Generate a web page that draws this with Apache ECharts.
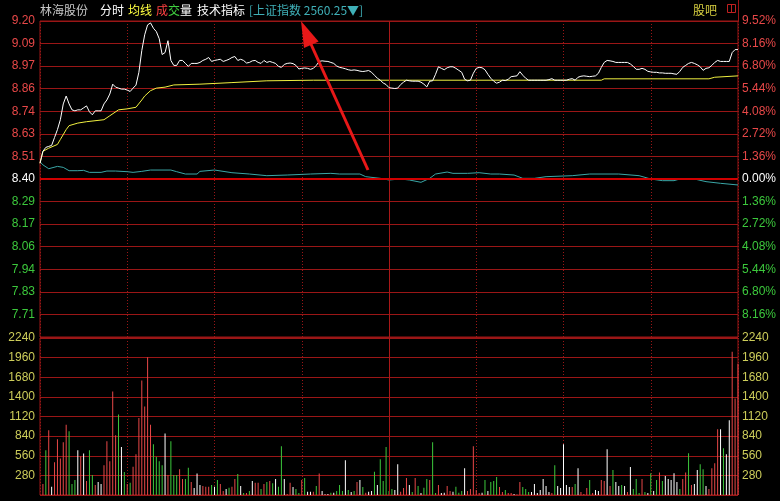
<!DOCTYPE html>
<html><head><meta charset="utf-8">
<script src="https://cdn.jsdelivr.net/npm/echarts@6/dist/echarts.min.js"></script>
<style>html,body{margin:0;padding:0;background:#000;}#c{width:780px;height:501px;}</style>
</head><body><div id="c"></div>
<script>
// ---- data ----
const stockName = '林海股份';
const basePrice = 8.40;          // previous close
const pctStep = 1.36;            // % per grid step
const volMax = 2240, volStep = 280;
const indexText = '[上证指数 2560.25▼]';

// last price per minute (0..240)
const prices = [
8.48,8.54,8.56,8.565,8.57,8.61,8.65,8.70,8.78,8.82,
8.78,8.75,8.745,8.75,8.75,8.76,8.77,8.74,8.725,8.745,
8.745,8.745,8.78,8.80,8.83,8.88,8.865,8.86,8.855,8.855,
8.85,8.843,8.86,8.875,8.94,9.05,9.13,9.18,9.19,9.163,
9.146,9.11,9.03,9.04,9.10,9.00,8.975,8.975,9.00,9.00,
8.985,8.97,8.985,8.985,8.985,8.99,9.00,9.006,9.015,8.995,
9.00,9.003,9.006,8.995,9.00,9.006,9.015,9.02,9.00,9.006,
9.00,8.987,8.99,8.998,9.00,8.99,8.985,9.00,8.99,8.995,
8.99,8.985,8.97,8.965,8.98,8.985,8.987,8.984,8.975,8.957,
8.96,8.962,8.96,8.955,8.96,8.975,8.995,8.998,8.996,8.995,
8.99,8.985,8.972,8.965,8.962,8.958,8.953,8.95,8.952,8.95,
8.946,8.944,8.946,8.949,8.94,8.925,8.91,8.90,8.886,8.878,
8.862,8.86,8.858,8.86,8.878,8.89,8.90,8.897,8.895,8.895,
8.895,8.89,8.88,8.866,8.895,8.897,8.93,8.968,8.96,8.953,
8.963,8.968,8.968,8.96,8.95,8.94,8.905,8.897,8.90,8.935,
8.96,8.965,8.963,8.953,8.93,8.91,8.895,8.885,8.89,8.90,
8.898,8.905,8.918,8.92,8.922,8.943,8.925,8.91,8.90,8.90,
8.90,8.90,8.90,8.90,8.90,8.903,8.908,8.90,8.90,8.90,
8.90,8.90,8.905,8.908,8.90,8.915,8.92,8.922,8.92,8.918,
8.92,8.922,8.935,8.965,8.99,9.00,8.998,8.995,8.99,8.99,
8.99,8.99,8.99,8.982,8.97,8.955,8.955,8.96,8.955,8.945,
8.942,8.94,8.94,8.937,8.937,8.935,8.935,8.935,8.932,8.93,
8.945,8.965,8.975,8.985,8.99,8.985,8.978,8.968,8.95,8.96,
8.963,8.975,8.99,9.00,8.995,8.995,8.995,8.995,9.04,9.055,
9.055];

// average price line (minute, price)
const avgMinutes = [0,1,3,6,7,9,10,13,16,22,24,27,30,33,35,36,38,40,43,46,55,66,78,94,193,194,230,232,240];
const avgPrices  = [8.48,8.54,8.556,8.575,8.60,8.65,8.67,8.683,8.69,8.70,8.72,8.75,8.755,8.763,8.80,8.82,8.847,8.86,8.865,8.876,8.88,8.888,8.897,8.90,8.90,8.907,8.907,8.915,8.922];

// Shanghai index overlay (minute, % change)
const idxMinutes = [0,1,3,6,8,10,13,15,17,21,23,26,30,32,35,38,45,47,50,54,55,60,66,72,78,85,93,100,103,110,112,117,120,124,127,131,134,136,140,142,147,151,155,158,163,166,170,174,183,189,199,206,210,214,218,220,225,229,234,240];
const idxPct     = [1.04,0.85,0.62,0.76,0.70,0.50,0.50,0.52,0.40,0.40,0.48,0.48,0.44,0.40,0.46,0.54,0.54,0.44,0.30,0.30,0.46,0.54,0.38,0.30,0.20,0.24,0.30,0.34,0.30,0.30,0.14,0.04,-0.06,0.00,-0.06,-0.20,0.04,0.30,0.42,0.34,0.34,0.38,0.30,0.30,0.24,0.04,0.04,0.14,0.20,0.30,0.30,0.20,0.00,-0.10,-0.10,0.00,0.00,-0.16,-0.26,-0.36];

// volume per minute (minutes 1..240) and direction r=up g=down w=flat
const volumes = [
156,639,923,118,469,795,521,753,1004,909,
156,213,639,554,592,199,639,284,142,185,
156,426,767,483,1477,852,1150,686,327,156,
175,402,582,1098,1633,1264,1964,1004,724,544,
483,426,876,284,767,284,284,369,227,227,
388,185,99,308,142,128,118,118,142,118,
213,156,57,85,104,118,227,298,128,28,
28,57,199,175,175,85,156,185,199,166,
227,118,696,227,14,175,114,85,28,213,
241,47,47,47,128,308,57,10,14,33,
33,57,142,57,497,71,42,57,185,213,
114,33,47,57,331,142,511,199,686,57,
85,71,440,47,99,241,142,42,241,128,
28,104,227,213,753,28,142,28,33,128,
57,47,118,33,57,383,57,85,696,71,
28,33,213,57,185,199,256,114,42,71,
28,28,14,5,185,114,85,42,42,156,
28,71,227,128,42,28,426,128,99,724,
142,114,114,156,383,42,14,99,213,28,
71,57,213,199,653,128,355,185,128,142,
128,42,398,85,227,28,227,42,28,312,
57,213,322,199,270,227,213,312,185,85,
227,322,596,142,156,355,440,369,128,85,
383,454,937,937,667,582,1065,2045,1377,1870];
const volDirs = (
'rgrwrrrrrg'+'ggwrwrggrw'+'wrrrrrgwgr'+'grrrrrrrgg'+'ggwrgggrrg'+
'grwwwrrrgw'+'grrwgrrgwg'+'rgwrrgrgrg'+'wggwrrwggr'+'gwwrgrwwwg'+
'wgggwgwgrw'+'grwwgwgggg'+'gwwrrrwgrg'+'wggrggrwwr'+'rwgggwrrrr'+
'rwgwgggrrg'+'rrwwrgggww'+'wwwwwrgwww'+'wwrgwrrrgr'+'wwrrwrgwwg'+
'wrwgggrgwg'+'wgrgwwwwwg'+'rrgrwwggwr'+'rrrwgwwrrr').split('');

// ---- chart ----
const toPct = p => (p / basePrice - 1) * 100;
const RED = '#e84848', GREEN = '#3cc83c', WHITE = '#ffffff', YEL = '#cdcd5a';
const GRID = '#9a1616';
const pMin = -7 * pctStep, pMax = 7 * pctStep;

const chart = echarts.init(document.getElementById('c'), null, {renderer: 'canvas'});
const font = 'Liberation Sans';
const cjk = '"Noto Sans CJK SC"';

function priceColor(v) { v = parseFloat(v); return Math.abs(v) < 1e-6 ? WHITE : (v > 0 ? RED : GREEN); }

const xCommon = {
  type: 'value', min: 0, max: 240, interval: 30,
  axisLine: {show: false}, axisTick: {show: false}, axisLabel: {show: false},
  splitLine: {show: true, lineStyle: {color: GRID, type: [1, 2], width: 1}}
};

const midLine = {silent: true, symbol: 'none', label: {show: false},
  lineStyle: {color: '#a81818', width: 1, type: 'solid', opacity: 1},
  data: [{xAxis: 120}]};

const option = {
  backgroundColor: '#000',
  animation: false,
  grid: [
    {left: 40, top: 21, width: 698, height: 316, show: true, borderColor: GRID, borderWidth: 1, backgroundColor: 'transparent'},
    {left: 40, top: 338, width: 698, height: 157, show: true, borderColor: GRID, borderWidth: 1, backgroundColor: 'transparent'}
  ],
  xAxis: [
    Object.assign({gridIndex: 0}, xCommon),
    Object.assign({gridIndex: 1}, xCommon)
  ],
  yAxis: [
    {gridIndex: 0, type: 'value', min: pMin, max: pMax, interval: pctStep, position: 'left',
     axisLine: {show: false}, axisTick: {show: false},
     axisLabel: {margin: 5, fontSize: 12, fontFamily: font, showMinLabel: false,
       formatter: v => (basePrice * (1 + v / 100)).toFixed(2), color: priceColor},
     splitLine: {show: true, lineStyle: {color: GRID, width: 1}}},
    {gridIndex: 0, type: 'value', min: pMin, max: pMax, interval: pctStep, position: 'right',
     axisLine: {show: false}, axisTick: {show: false},
     axisLabel: {margin: 4, fontSize: 12, fontFamily: font, showMinLabel: false,
       formatter: v => Math.abs(v).toFixed(2) + '%', color: priceColor},
     splitLine: {show: false}},
    {gridIndex: 1, type: 'value', min: 0, max: volMax, interval: volStep, position: 'left',
     axisLine: {show: false}, axisTick: {show: false},
     axisLabel: {margin: 5, fontSize: 12, fontFamily: font, showMinLabel: false, color: YEL,
       formatter: v => String(v)},
     splitLine: {show: true, lineStyle: {color: GRID, width: 1}}},
    {gridIndex: 1, type: 'value', min: 0, max: volMax, interval: volStep, position: 'right',
     axisLine: {show: false}, axisTick: {show: false},
     axisLabel: {margin: 4, fontSize: 12, fontFamily: font, showMinLabel: false, color: YEL,
       formatter: v => String(v)},
     splitLine: {show: false}}
  ],
  series: [
    {type: 'line', name: 'mid', xAxisIndex: 0, yAxisIndex: 0, showSymbol: false, silent: true,
     data: [], markLine: midLine},
    {type: 'line', name: 'zero', xAxisIndex: 0, yAxisIndex: 0, showSymbol: false, silent: true,
     data: [], markLine: {silent: true, symbol: 'none', label: {show: false},
       lineStyle: {color: '#d00000', width: 2, type: 'solid', opacity: 1}, data: [{yAxis: 0}]}},
    {type: 'line', name: 'index', xAxisIndex: 0, yAxisIndex: 1, showSymbol: false, silent: true,
     data: idxMinutes.map((m, i) => [m, idxPct[i]]),
     lineStyle: {color: '#3aa6a6', width: 1}, z: 3},
    {type: 'line', name: 'avg', xAxisIndex: 0, yAxisIndex: 0, showSymbol: false, silent: true,
     data: avgMinutes.map((m, i) => [m, toPct(avgPrices[i])]),
     lineStyle: {color: '#f0f040', width: 1}, z: 4},
    {type: 'line', name: 'price', xAxisIndex: 0, yAxisIndex: 0, showSymbol: false, silent: true,
     data: prices.map((p, i) => [i, toPct(p)]),
     lineStyle: {color: '#ffffff', width: 1}, z: 5},
    {type: 'bar', name: 'vol', xAxisIndex: 1, yAxisIndex: 2, silent: true, barWidth: 1,
     data: volumes.map((v, i) => ({value: [i + 1, v],
       itemStyle: {color: volDirs[i] === 'r' ? RED : (volDirs[i] === 'g' ? GREEN : WHITE)}})),
     markLine: midLine}
  ],
  graphic: [
    {type: 'text', left: 40, top: 4, style: {text: stockName, fill: '#c8c8c8', font: '12px ' + cjk}},
    {type: 'text', left: 100, top: 4, style: {text: '分时', fill: '#ffffff', font: '12px ' + cjk}},
    {type: 'text', left: 128, top: 4, style: {text: '均线', fill: '#ffff40', font: '12px ' + cjk}},
    {type: 'text', left: 156, top: 4, style: {text: '成', fill: '#ff4040', font: '12px ' + cjk}},
    {type: 'text', left: 168, top: 4, style: {text: '交', fill: '#40d040', font: '12px ' + cjk}},
    {type: 'text', left: 180, top: 4, style: {text: '量', fill: '#ffffff', font: '12px ' + cjk}},
    {type: 'text', left: 197, top: 4, style: {text: '技术指标', fill: '#ffffff', font: '12px ' + cjk}},
    {type: 'text', left: 249, top: 4, style: {text: indexText, fill: '#3fb0b8', font: '12px ' + cjk}},
    {type: 'text', left: 693, top: 4, style: {text: '股吧', fill: '#d8d040', font: '12px ' + cjk}},
    {type: 'rect', shape: {x: 727.5, y: 4.5, width: 8, height: 8}, style: {fill: 'none', stroke: '#c02020', lineWidth: 1}},
    {type: 'line', shape: {x1: 731.5, y1: 4.5, x2: 731.5, y2: 12.5}, style: {stroke: '#c02020', lineWidth: 1}},
    {type: 'line', shape: {x1: 738.5, y1: 0, x2: 738.5, y2: 21}, style: {stroke: GRID, lineWidth: 1}},
    {type: 'line', shape: {x1: 368, y1: 170, x2: 310, y2: 42}, style: {stroke: '#e81818', lineWidth: 3}, z: 100},
    {type: 'polygon', shape: {points: [[301, 21], [318.6, 41.5], [304, 48.1]]}, style: {fill: '#e81818'}, z: 100}
  ]
};
chart.setOption(option);
</script></body></html>
